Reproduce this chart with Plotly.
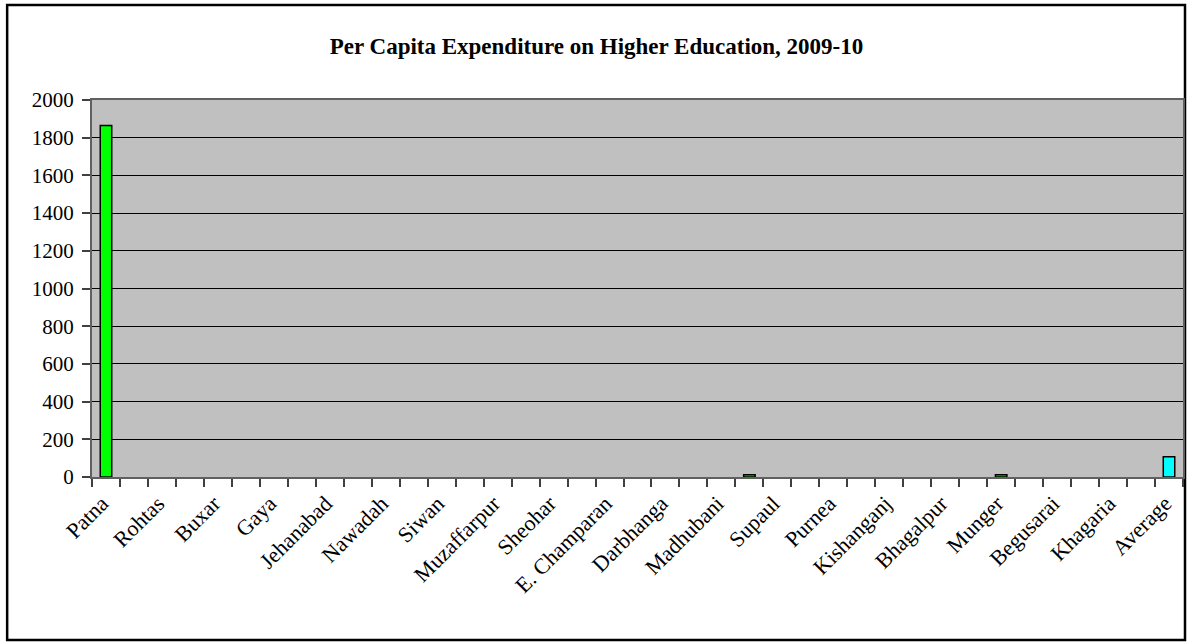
import plotly.graph_objects as go

# Categories (38 districts + Average); only every other one is labelled in the reference
districts = ["Patna", "Nalanda", "Rohtas", "Kaimur", "Buxar", "Bhojpur", "Gaya", "Aurangabad",
             "Jehanabad", "Arwal", "Nawadah", "Saran", "Siwan", "Gopalganj", "Muzaffarpur",
             "Vaishali", "Sheohar", "Sitamarhi", "E. Champaran", "W. Champaran", "Darbhanga",
             "Samastipur", "Madhubani", "Saharsa", "Supaul", "Madhepura", "Purnea", "Araria",
             "Kishanganj", "Katihar", "Bhagalpur", "Banka", "Munger", "Lakhisarai", "Begusarai",
             "Sheikhpura", "Khagaria", "Jamui", "Average"]
values = [1865, 0, 0, 0, 0, 0, 0, 0,
          0, 0, 0, 0, 0, 0, 0,
          0, 0, 0, 0, 0, 0,
          0, 0, 12, 0, 0, 0, 0,
          0, 0, 0, 0, 12, 0, 0,
          0, 0, 0, 108]
shown_labels = [d if i % 2 == 0 else "" for i, d in enumerate(districts)]
bar_colors = ["#00FF00"] * (len(districts) - 1) + ["#00FFFF"]

title_text = "Per Capita Expenditure on Higher Education, 2009-10"
y_ticks = list(range(0, 2001, 200))

FONT = "Liberation Serif, Times New Roman, serif"

fig = go.Figure()
fig.add_trace(go.Bar(
    x=districts, y=values,
    marker=dict(color=bar_colors,
                line=dict(color="black", width=[1.5 if v > 0 else 0 for v in values])),
    width=0.41,
))

L, R, T, B = 92, 8, 100, 167
W, H = 1193, 644
pw, ph = W - L - R, H - T - B

def px_x(x):
    return (x - L) / pw

def px_y(y):
    return (H - B - y) / ph

fig.update_layout(
    width=W, height=H,
    margin=dict(l=L, r=R, t=T, b=B, pad=0),
    paper_bgcolor="white",
    plot_bgcolor="#C0C0C0",
    showlegend=False,
    font=dict(family=FONT, color="black", size=19),
    title=dict(text="<b>" + title_text + "</b>", x=0.5, xanchor="center",
               y=1 - 46 / H, yanchor="middle",
               font=dict(family=FONT, size=23, color="black")),
    shapes=[dict(type="rect", xref="paper", yref="paper",
                 x0=px_x(7), x1=px_x(1187), y0=px_y(640), y1=px_y(5),
                 line=dict(color="black", width=2.5), fillcolor="rgba(0,0,0,0)",
                 layer="below")],
)

fig.update_xaxes(
    type="category",
    tickmode="array", tickvals=districts, ticktext=shown_labels,
    tickson="boundaries", ticks="outside", ticklen=8, tickcolor="#404040", tickwidth=1.5,
    tickangle=-45, ticklabelstandoff=3, ticklabelshift=-4,
    showline=True, linecolor="#606060", linewidth=2, mirror=True,
    showgrid=False,
    range=[-0.5, len(districts) - 0.5],
    tickfont=dict(family=FONT, size=22, color="black"),
)
fig.update_yaxes(
    range=[0, 2000], tickmode="array", tickvals=y_ticks,
    ticks="outside", ticklen=8, tickcolor="#404040", tickwidth=1.5,
    ticklabelstandoff=4,
    showline=True, linecolor="#606060", linewidth=2, mirror=True,
    showgrid=True, gridcolor="black", gridwidth=1,
    zeroline=False,
    tickfont=dict(family=FONT, size=21, color="black"),
)

fig.write_html("out.html", config={"displayModeBar": False},
               post_script="document.body.style.margin='0';")
